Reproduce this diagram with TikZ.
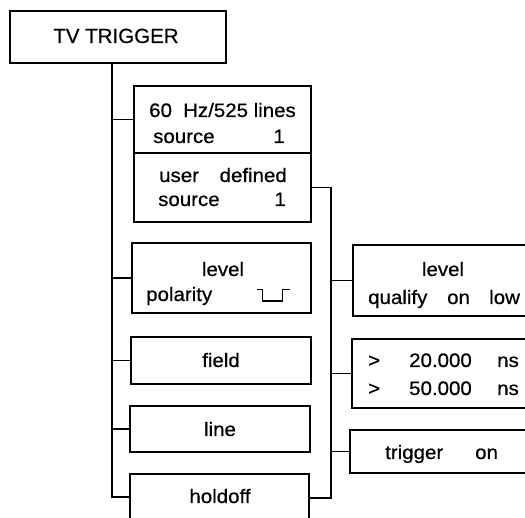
\documentclass[tikz,border=0pt]{standalone}
\usepackage{fontspec}
\setmainfont[FakeStretch=1.05,FakeBold=0.6]{Liberation Sans}
\newfontfamily\tvfont[FakeBold=0.6]{Liberation Sans}
\begin{document}
\begin{tikzpicture}[x=1pt,y=-1pt,
  box/.style={draw, line width=1.1pt, inner sep=0pt},
  txt/.style={inner sep=0pt, font=\fontsize{19.5}{21}\selectfont},
  wire/.style={line width=1.1pt}]
\useasboundingbox (0,0) rectangle (525,518);
\clip (0,0) rectangle (525,518);
% boxes
\node[box, minimum width=216pt, minimum height=52pt] (tv) at (118,37) {};
\node[box, minimum width=177pt, minimum height=67pt] (b1) at (222.5,119.5) {};
\node[box, minimum width=177pt, minimum height=69pt] (b2) at (222.5,187.5) {};
\node[box, minimum width=179pt, minimum height=70pt] (b3) at (221.5,278) {};
\node[box, minimum width=180pt, minimum height=47pt] (b4) at (221,360.5) {};
\node[box, minimum width=180pt, minimum height=46pt] (b5) at (220,429) {};
\node[box, minimum width=179pt, minimum height=61pt] (b6) at (219.5,504.5) {};
\node[box, minimum width=192pt, minimum height=71pt] (r1) at (449,280.5) {};
\node[box, minimum width=193pt, minimum height=69pt] (r2) at (448.5,373.5) {};
\node[box, minimum width=195pt, minimum height=43pt] (r3) at (447.5,451.5) {};
% texts
\node[inner sep=0pt, anchor=base, font=\tvfont\fontsize{20.5}{22}\selectfont] (tvt) at (116,43) {TV TRIGGER};
\node[txt, anchor=base west] (b1a) at (149,117) {60};
\node[txt, anchor=base west] (b1b) at (183,117) {Hz/525};
\node[txt, anchor=base east] (b1c) at (296,117) {lines};
\node[txt, anchor=base west] (b1d) at (153,143) {source};
\node[txt, anchor=base east] (b1e) at (285,143) {1};
\node[txt, anchor=base west] (b2a) at (159,182) {user};
\node[txt, anchor=base east] (b2b) at (287,182) {defined};
\node[txt, anchor=base west] (b2c) at (158,206) {source};
\node[txt, anchor=base east] (b2d) at (286,206) {1};
\node[txt, anchor=base] (b3a) at (223,276) {level};
\node[txt, anchor=base west] (b3b) at (146,301) {polarity};
\node[txt, anchor=base] (b4a) at (221,367) {field};
\node[txt, anchor=base] (b5a) at (220,436) {line};
\node[txt, anchor=base] (b6a) at (220,503) {holdoff};
\node[txt, anchor=base] (r1a) at (443,276) {level};
\node[txt, anchor=base west] (r1b) at (368,304) {qualify};
\node[txt, anchor=base west] (r1c) at (447,304) {on};
\node[txt, anchor=base west] (r1d) at (489,304) {low};
\node[txt, anchor=base west] (r2a) at (368,367) {>};
\node[txt, anchor=base east] (r2b) at (472,367) {20.000};
\node[txt, anchor=base west] (r2c) at (497,367) {ns};
\node[txt, anchor=base west] (r2d) at (368,395) {>};
\node[txt, anchor=base east] (r2e) at (472,395) {50.000};
\node[txt, anchor=base west] (r2f) at (497,395) {ns};
\node[txt, anchor=base west] (r3a) at (385,459) {trigger};
\node[txt, anchor=base west] (r3b) at (475,459) {on};
% polarity symbol
\draw[wire] (256.7,289.3) -- ++(6,0) -- ++(0,11.7) -- ++(20,0) -- ++(0,-11.7) -- ++(7.3,0);
% trunk 1
\coordinate (t1a) at (112,63);
\coordinate (t1b) at (112,497);
\draw[wire] (t1a) -- (t1b) -- (t1b -| b6.west);
\draw[wire] (b1.west -| t1a) -- (b1.west);
\draw[wire] (b3.west -| t1a) -- (b3.west);
\draw[wire] (b4.west -| t1a) -- (b4.west);
\draw[wire] (b5.west -| t1a) -- (b5.west);
% trunk 2
\coordinate (t2a) at (331,187.5);
\coordinate (t2b) at (331,498);
\draw[wire] (b2.east) -- (t2a) -- (t2b) -- (t2b -| b6.east);
\draw[wire] (r1.west -| t2a) -- (r1.west);
\draw[wire] (r2.west -| t2a) -- (r2.west);
\draw[wire] (r3.west -| t2a) -- (r3.west);
\end{tikzpicture}
\end{document}
